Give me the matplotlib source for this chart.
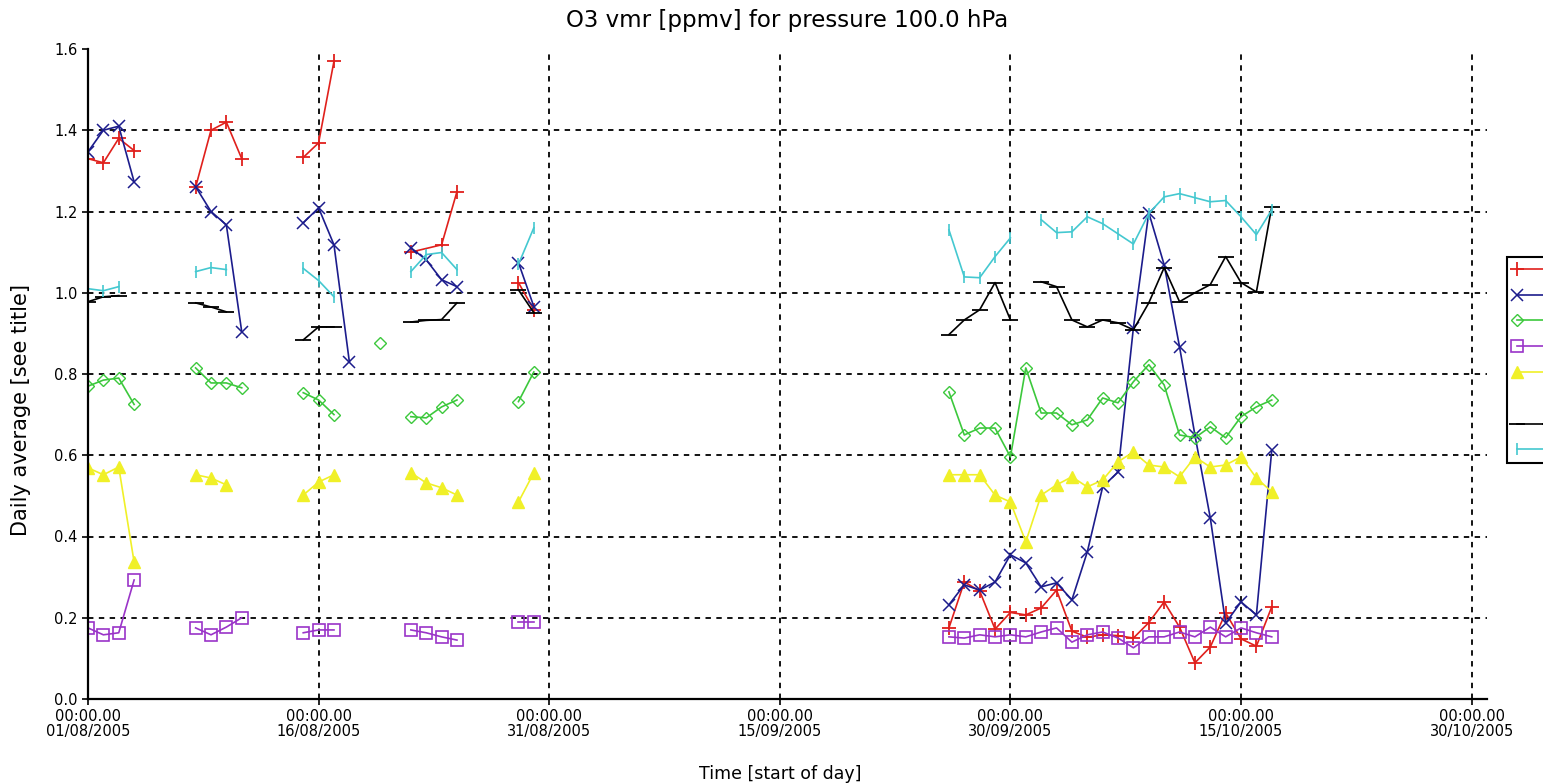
"""Daily-average O3 vmr at 100 hPa, several stations, Aug-Oct 2005."""

import matplotlib

matplotlib.use("Agg")
import matplotlib.pyplot as plt
import pandas as pd
from matplotlib.lines import Line2D

START = pd.Timestamp("2005-08-01")

# Each series is a list of runs of consecutive days (offset from START);
# separate runs are drawn as separate lines, as in the original.
red_days = [[0, 1, 2, 3], [7, 8, 9, 10], [14, 15, 16], [21, 23, 24], [28, 29],
            list(range(56, 78))]
red_vals = [[1.33, 1.32, 1.38, 1.35], [1.26, 1.40, 1.42, 1.33], [1.333, 1.369, 1.57],
            [1.10, 1.118, 1.249], [1.025, 0.958],
            [0.175, 0.288, 0.266, 0.172, 0.213, 0.207, 0.224, 0.268, 0.167, 0.152, 0.158,
             0.156, 0.15, 0.188, 0.239, 0.177, 0.089, 0.128, 0.212, 0.148, 0.13, 0.227]]

blue_days = [[0, 1, 2, 3], [7, 8, 9, 10], [14, 15, 16, 17], [21, 22, 23, 24], [28, 29],
             list(range(56, 78))]
blue_vals = [[1.347, 1.40, 1.41, 1.273], [1.261, 1.20, 1.167, 0.904],
             [1.172, 1.209, 1.118, 0.83], [1.111, 1.081, 1.032, 1.015], [1.074, 0.966],
             [0.232, 0.281, 0.268, 0.288, 0.355, 0.335, 0.276, 0.286, 0.244, 0.362, 0.522,
              0.559, 0.914, 1.197, 1.069, 0.867, 0.65, 0.446, 0.187, 0.239, 0.207, 0.613]]

green_days = [[0, 1, 2, 3], [7, 8, 9, 10], [14, 15, 16], [19], [21, 22, 23, 24], [28, 29],
              list(range(56, 78))]
green_vals = [[0.77, 0.785, 0.79, 0.725], [0.815, 0.778, 0.778, 0.766], [0.754, 0.736, 0.70],
              [0.877], [0.695, 0.692, 0.719, 0.736], [0.732, 0.805],
              [0.756, 0.65, 0.667, 0.667, 0.596, 0.815, 0.704, 0.704, 0.675, 0.687, 0.741,
               0.729, 0.781, 0.823, 0.773, 0.65, 0.643, 0.67, 0.643, 0.695, 0.719, 0.736]]

purple_days = [[0, 1, 2, 3], [7, 8, 9, 10], [14, 15, 16], [21, 22, 23, 24], [28, 29],
               list(range(56, 78))]
purple_vals = [[0.175, 0.158, 0.163, 0.293], [0.175, 0.158, 0.177, 0.20], [0.163, 0.17, 0.17],
               [0.17, 0.163, 0.153, 0.145], [0.19, 0.19],
               [0.153, 0.15, 0.158, 0.153, 0.158, 0.153, 0.165, 0.175, 0.14, 0.158, 0.165,
                0.15, 0.126, 0.153, 0.153, 0.165, 0.153, 0.177, 0.153, 0.175, 0.163, 0.153]]

yellow_days = [[0, 1, 2, 3], [7, 8, 9], [14, 15, 16], [21, 22, 23, 24], [28, 29],
               list(range(56, 78))]
yellow_vals = [[0.569, 0.552, 0.571, 0.337], [0.552, 0.544, 0.527], [0.502, 0.534, 0.552],
               [0.557, 0.532, 0.52, 0.502], [0.485, 0.557],
               [0.552, 0.552, 0.552, 0.502, 0.485, 0.387, 0.502, 0.527, 0.547, 0.522, 0.539,
                0.584, 0.608, 0.576, 0.571, 0.547, 0.596, 0.571, 0.576, 0.596, 0.544, 0.51]]

black_days = [[0, 1, 2], [7, 8, 9], [14, 15, 16], [21, 22, 23, 24], [28, 29],
              list(range(56, 61)), list(range(62, 78))]
black_vals = [[0.978, 0.99, 0.993], [0.975, 0.965, 0.953], [0.884, 0.916, 0.916],
              [0.928, 0.932, 0.934, 0.975], [1.007, 0.951],
              [0.897, 0.933, 0.958, 1.025, 0.933],
              [1.027, 1.015, 0.933, 0.916, 0.933, 0.926, 0.909, 0.975, 1.062, 0.978, 1.0,
               1.02, 1.089, 1.025, 1.002, 1.212]]

cyan_days = [[0, 1, 2], [7, 8, 9], [14, 15, 16], [21, 22, 23, 24], [28, 29],
             list(range(56, 61)), list(range(62, 78))]
cyan_vals = [[1.01, 1.005, 1.015], [1.052, 1.062, 1.057], [1.06, 1.03, 0.99],
             [1.052, 1.094, 1.099, 1.057], [1.07, 1.16],
             [1.155, 1.039, 1.037, 1.089, 1.135],
             [1.18, 1.148, 1.15, 1.187, 1.17, 1.145, 1.12, 1.195, 1.236, 1.244, 1.234,
              1.224, 1.227, 1.187, 1.143, 1.204]]

TICK_DATES = ["2005-08-01", "2005-08-16", "2005-08-31", "2005-09-15",
              "2005-09-30", "2005-10-15", "2005-10-30"]
Y_TICKS = [0.0, 0.2, 0.4, 0.6, 0.8, 1.0, 1.2, 1.4, 1.6]

SERIES = [
    (red_days, red_vals, dict(color="#e0201c", marker="+", ms=10, mew=1.3)),
    (blue_days, blue_vals, dict(color="#1c1c8c", marker="x", ms=9, mew=1.1)),
    (green_days, green_vals, dict(color="#3cc83c", marker="D", ms=6, mfc="none", mew=1.0)),
    (purple_days, purple_vals, dict(color="#9a34c8", marker="s", ms=9, mfc="none", mew=1.2)),
    (yellow_days, yellow_vals, dict(color="#f0f028", marker="^", ms=8, mew=1.0)),
    (black_days, black_vals, dict(color="black", marker="_", ms=11, mew=1.3)),
    (cyan_days, cyan_vals, dict(color="#44c8d0", marker="|", ms=9, mew=1.2)),
]


def _plot_runs(ax, days, vals, style):
    """Draw each run of consecutive days as its own line; return one handle."""
    handle = None
    for run_days, run_vals in zip(days, vals):
        x = START + pd.to_timedelta(run_days, unit="D")
        (handle,) = ax.plot(x, run_vals, lw=1.2, **style)
    return handle


fig = plt.figure(figsize=(15.43, 7.83), dpi=100)
ax = fig.add_axes([88 / 1543, 1 - 699 / 783, 1399 / 1543, 650 / 783])

handles = [_plot_runs(ax, d, v, s) for d, v, s in SERIES]

ax.set_xlim(START, pd.Timestamp("2005-10-31"))
ax.set_ylim(0.0, 1.6)

ticks = pd.to_datetime(TICK_DATES)
ax.set_xticks(ticks)
ax.set_xticklabels([t.strftime("00:00.00\n%d/%m/%Y") for t in ticks],
                   fontsize=10.5, linespacing=1.0)
ax.set_yticks(Y_TICKS)
ax.set_yticklabels([f"{y:.1f}" for y in Y_TICKS], fontsize=10.5)
ax.tick_params(axis="both", length=4, width=1.2, color="black")

ax.grid(True, color="black", linestyle=(0, (3, 3)), linewidth=1.3)
ax.get_ygridlines()[-1].set_visible(False)
ax.set_axisbelow(True)

for side in ("top", "right"):
    ax.spines[side].set_visible(False)
for side in ("left", "bottom"):
    ax.spines[side].set_linewidth(1.6)

ax.set_title("O3 vmr [ppmv] for pressure 100.0 hPa", fontsize=16.5, pad=16)
ax.set_xlabel("Time [start of day]", fontsize=12.5)
ax.xaxis.set_label_coords(0.495, -0.102)
ax.set_ylabel("Daily average [see title]", fontsize=15)
ax.yaxis.set_label_coords(-0.041, 0.445)

# legend box sits at the right edge; its labels fall outside the picture
blank = Line2D([], [], linestyle="none")
leg_handles = handles[:5] + [blank] + handles[5:]
leg = fig.legend(leg_handles, [""] * len(leg_handles), loc="upper left",
                 bbox_to_anchor=(1507 / 1543, 1 - 257 / 783),
                 bbox_transform=fig.transFigure,
                 frameon=True, fancybox=False, edgecolor="black", framealpha=1,
                 borderpad=0.4, handlelength=3.0, numpoints=2, fontsize=10,
                 labelspacing=0.85, borderaxespad=0)
leg.get_frame().set_linewidth(1.5)

fig.savefig("out.png", dpi=100)
